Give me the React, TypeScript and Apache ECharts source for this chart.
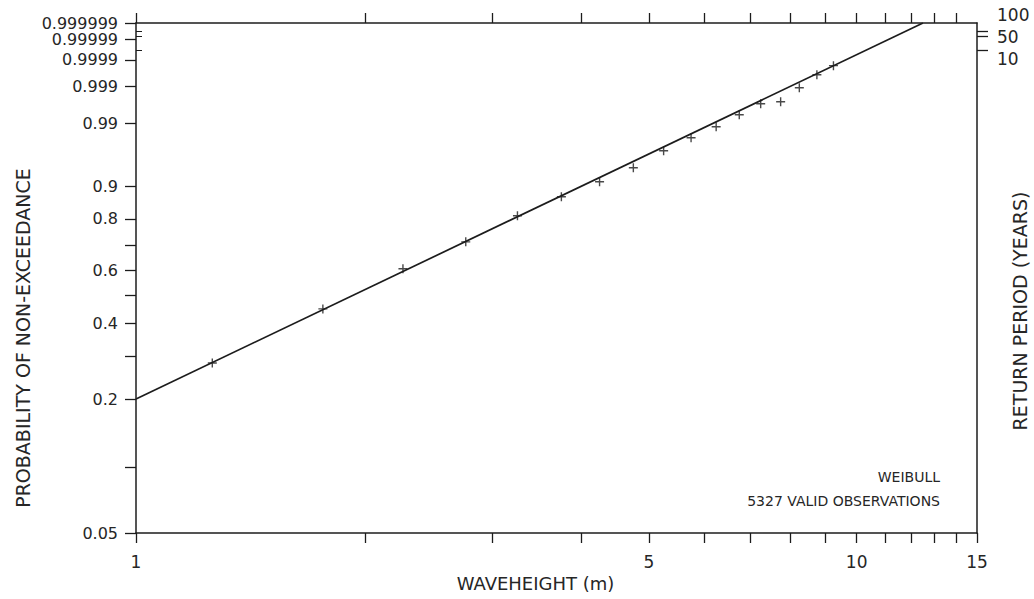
import React, { useEffect, useRef } from "react";
import * as echarts from "echarts";

// ---- data ----
const WAVE_HEIGHT = [1.25, 1.75, 2.25, 2.75, 3.25, 3.75, 4.25, 4.75, 5.25, 5.75, 6.25, 6.75, 7.25, 7.75, 8.25, 8.75, 9.25];
const PROB_NON_EXC = [0.282, 0.451, 0.606, 0.714, 0.811, 0.8715, 0.911, 0.9405, 0.9667, 0.9802, 0.98805, 0.9936, 0.99665, 0.99705, 0.99888, 0.999604, 0.999825];

// fitted Weibull line (end points)
const FIT_HEIGHT = [1, 12.5];
const FIT_PROB = [0.2, 0.999999];

// axis ticks / labels
const X_LABELS = [1, 5, 10, 15];
const X_TICKS_BOTTOM = [1, 2, 3, 4, 5, 6, 7, 8, 9, 10, 11, 12, 13, 14, 15];
const X_TICKS_TOP = [1, 2, 3, 4, 5, 6, 7, 8, 9, 10, 11, 12, 13, 14];
const Y_LABELS = [0.05, 0.2, 0.4, 0.6, 0.8, 0.9, 0.99, 0.999, 0.9999, 0.99999, 0.999999];
const Y_MINOR = [0.1, 0.3, 0.5, 0.7];
const RETURN_PERIODS = [100, 50, 10];

// scale parameters
const LOCATION = 0.16; // 3-parameter Weibull location of the x scale
const OBS_PER_YEAR = 2920; // 3-hourly observations

const X_MIN = 1;
const X_MAX = 15;
const P_MIN = 0.05;
const P_MAX = 0.999999;

const tx = (h: number) => Math.log(h - LOCATION);
const ty = (p: number) => Math.log(-Math.log(1 - p));
const rpProb = (T: number) => 1 - 1 / (T * OBS_PER_YEAR);

function nearest<T>(list: T[], f: (t: T) => number, v: number): T {
  let best = list[0];
  let d = Infinity;
  for (const it of list) {
    const dd = Math.abs(f(it) - v);
    if (dd < d) {
      d = dd;
      best = it;
    }
  }
  return best;
}

const INK = "#1c1c1c";
const TXT = "#262626";
const FONT = "DejaVu Sans";

export default function App() {
  const ref = useRef<HTMLDivElement>(null);

  useEffect(() => {
    if (!ref.current) return;
    const chart = echarts.init(ref.current, undefined, { renderer: "svg" });

    const points = WAVE_HEIGHT.map((h, i) => [tx(h), ty(PROB_NON_EXC[i])]);
    const fit = FIT_HEIGHT.map((h, i) => [tx(h), ty(FIT_PROB[i])]);

    const axisLine = { show: true, onZero: false, lineStyle: { color: INK, width: 1.5 } };
    const tickStyle = { color: INK, width: 1.3 };
    const labelBase = { fontFamily: FONT, fontSize: 17, color: TXT };

    // split the crowded probability labels over two overlaid axes so none is dropped
    const yLabelsEven = Y_LABELS.filter((_, i) => i % 2 === 0);
    const yLabelsOdd = Y_LABELS.filter((_, i) => i % 2 === 1);
    const probLabel = (list: number[]) => ({
      ...labelBase,
      fontSize: 16,
      lineHeight: 16,
      customValues: list.map(ty),
      formatter: (v: number) => String(nearest(Y_LABELS, ty, v)),
      margin: 18,
      showMinLabel: true,
      showMaxLabel: true,
      hideOverlap: false,
    });

    const option: any = {
      animation: false,
      backgroundColor: "#ffffff",
      grid: { left: 136, right: 57, top: 23, bottom: 66, containLabel: false, outerBoundsMode: "none" },
      xAxis: [
        {
          type: "value",
          position: "bottom",
          min: tx(X_MIN),
          max: tx(X_MAX),
          axisLine,
          axisTick: { show: true, customValues: X_TICKS_BOTTOM.map(tx), length: 10, lineStyle: tickStyle },
          axisLabel: {
            ...labelBase,
            customValues: X_LABELS.map(tx),
            formatter: (v: number) => String(nearest(X_LABELS, tx, v)),
            margin: 20,
            showMinLabel: true,
            showMaxLabel: true,
            hideOverlap: false,
          },
          splitLine: { show: false },
          name: "WAVEHEIGHT (m)",
          nameLocation: "middle",
          nameGap: 41,
          nameMoveOverlap: false,
          nameTextStyle: { fontFamily: FONT, fontSize: 18, color: TXT, padding: [0, 42, 0, 0] },
        },
        {
          type: "value",
          position: "top",
          min: tx(X_MIN),
          max: tx(X_MAX),
          axisLine,
          axisTick: { show: true, customValues: X_TICKS_TOP.map(tx), length: 10, lineStyle: tickStyle },
          axisLabel: { show: false },
          splitLine: { show: false },
        },
      ],
      yAxis: [
        {
          type: "value",
          position: "left",
          min: ty(P_MIN),
          max: ty(P_MAX),
          axisLine,
          axisTick: { show: true, customValues: [...Y_LABELS, ...Y_MINOR].map(ty), length: 11, lineStyle: tickStyle },
          axisLabel: probLabel(yLabelsEven),
          splitLine: { show: false },
          name: "PROBABILITY OF NON-EXCEEDANCE",
          nameLocation: "middle",
          nameRotate: 90,
          nameGap: 104,
          nameMoveOverlap: false,
          nameTextStyle: { fontFamily: FONT, fontSize: 19, color: TXT, padding: [0, 120, 0, 0] },
        },
        {
          type: "value",
          position: "right",
          min: ty(P_MIN),
          max: ty(P_MAX),
          axisLine,
          axisTick: { show: true, customValues: RETURN_PERIODS.map((T) => ty(rpProb(T))), length: 11, lineStyle: tickStyle },
          axisLabel: {
            ...labelBase,
            customValues: RETURN_PERIODS.map((T) => ty(rpProb(T))),
            formatter: (v: number) => {
              const T = nearest(RETURN_PERIODS, (t) => ty(rpProb(t)), v);
              const i = RETURN_PERIODS.indexOf(T);
              return `{r${i}|${T}}`;
            },
            rich: {
              r0: { ...labelBase, padding: [0, 0, 34, 0] },
              r1: { ...labelBase },
              r2: { ...labelBase, padding: [18, 0, 0, 0] },
            },
            margin: 20,
            showMinLabel: true,
            showMaxLabel: true,
            hideOverlap: false,
          },
          splitLine: { show: false },
          name: "RETURN PERIOD (YEARS)",
          nameLocation: "middle",
          nameRotate: 90,
          nameGap: 33,
          nameMoveOverlap: false,
          nameTextStyle: { fontFamily: FONT, fontSize: 19, color: TXT, padding: [0, 66, 0, 0] },
        },
        {
          type: "value",
          position: "left",
          min: ty(P_MIN),
          max: ty(P_MAX),
          axisLine: { show: false, onZero: false },
          axisTick: { show: true, inside: true, customValues: RETURN_PERIODS.map((T) => ty(rpProb(T))), length: 6, lineStyle: { color: INK, width: 1 } },
          axisLabel: probLabel(yLabelsOdd),
          splitLine: { show: false },
        },
      ],
      series: [
        {
          type: "line",
          xAxisIndex: 0,
          yAxisIndex: 0,
          data: fit,
          symbol: "none",
          showSymbol: false,
          silent: true,
          lineStyle: { color: INK, width: 1.7 },
        },
        {
          type: "scatter",
          xAxisIndex: 0,
          yAxisIndex: 0,
          data: points,
          symbol: "path://M5 0V10M0 5H10",
          symbolSize: 9,
          silent: true,
          itemStyle: { color: "rgba(0,0,0,0)", borderColor: INK, borderWidth: 1.4 },
        },
      ],
      graphic: [
        {
          type: "text",
          right: 94,
          top: 470,
          style: { text: "WEIBULL", font: `14px "${FONT}"`, fill: TXT },
        },
        {
          type: "text",
          right: 94,
          top: 494,
          style: { text: "5327 VALID OBSERVATIONS", font: `14px "${FONT}"`, fill: TXT },
        },
      ],
    };

    chart.setOption(option);
    return () => chart.dispose();
  }, []);

  return (
    <div
      ref={ref}
      style={{ position: "fixed", left: 0, top: 0, width: 1034, height: 599, background: "#fff" }}
    />
  );
}
